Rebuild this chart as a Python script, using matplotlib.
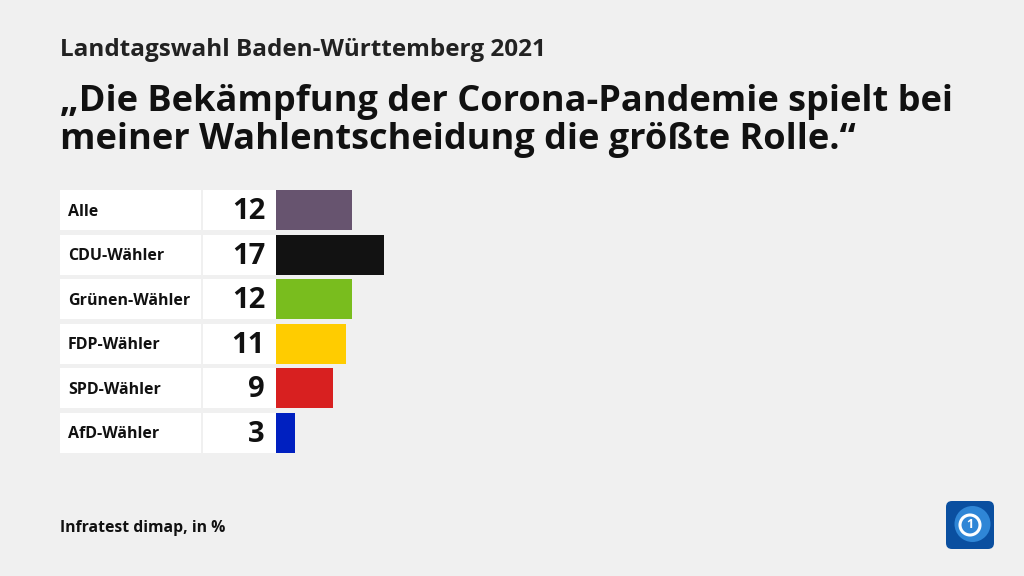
import numpy as np
import matplotlib.pyplot as plt
from matplotlib.patches import FancyBboxPatch, Circle

groups = ["Alle", "CDU-Wähler", "Grünen-Wähler", "FDP-Wähler", "SPD-Wähler", "AfD-Wähler"]
values = [12, 17, 12, 11, 9, 3]
colors = ["#67546f", "#121212", "#79bd1e", "#ffcc00", "#d82020", "#0020c0"]

subtitle = "Landtagswahl Baden-Württemberg 2021"
title = "„Die Bekämpfung der Corona-Pandemie spielt bei\nmeiner Wahlentscheidung die größte Rolle.“"
source = "Infratest dimap, in %"

plt.rcParams['font.family'] = ['Open Sans', 'DejaVu Sans']

W, H = 1024, 576
fig = plt.figure(figsize=(W / 100, H / 100), dpi=100)
fig.patch.set_facecolor("#f0f0f0")

# Balken-Achse: beginnt bei x=276 px, 6.37 px pro Prozentpunkt
px_per_unit = 6.37
x0 = 276
ax = fig.add_axes([x0 / W, (576 - 456) / H, (W - x0) / W, (456 - 189) / H])
ax.set_xlim(0, (W - x0) / px_per_unit)
n = len(groups)
ax.set_ylim(n - 0.5 + 0.02, -0.5 + 0.02)
ax.axis("off")

y = np.arange(n)
h = 40 / 44.6
lab_left = (60 - x0) / px_per_unit
lab_w = (201 - 60) / px_per_unit
val_left = (203 - x0) / px_per_unit
val_w = (276 - 203) / px_per_unit

ax.barh(y, [lab_w] * n, left=lab_left, height=h, color="white", clip_on=False)
ax.barh(y, [val_w] * n, left=val_left, height=h, color="white", clip_on=False)
ax.barh(y, values, height=h, color=colors)

for i, (g, v) in enumerate(zip(groups, values)):
    ax.text(lab_left + 8 / px_per_unit, i + 0.03, g, ha="left", va="center",
            fontsize=11.5, fontweight="bold", color="#111111", clip_on=False)
    ax.text(-11 / px_per_unit, i + 0.03, str(v), ha="right", va="center",
            fontsize=21, fontweight="bold", color="#111111", clip_on=False)

fig.text(60 / W, 1 - 50 / H, subtitle, ha="left", va="center",
         fontsize=17.5, fontweight="bold", color="#222222")
fig.text(60 / W, 1 - 121 / H, title, ha="left", va="center",
         fontsize=26, fontweight="bold", color="#111111", linespacing=1.08)
fig.text(60 / W, 1 - 528 / H, source, ha="left", va="center",
         fontsize=11.3, fontweight="bold", color="#111111")

# Logo unten rechts
lax = fig.add_axes([945 / W, (576 - 550) / H, 50 / W, 50 / H])
lax.set_xlim(0, 1)
lax.set_ylim(0, 1)
lax.axis("off")
lax.add_patch(FancyBboxPatch((0.02, 0.02), 0.96, 0.96, boxstyle="round,pad=0,rounding_size=0.12",
                             facecolor="#0a4fa0", edgecolor="none"))
lax.add_patch(Circle((0.55, 0.52), 0.36, facecolor="#2f86d6", edgecolor="none"))
lax.add_patch(Circle((0.5, 0.5), 0.2, facecolor="none", edgecolor="white", linewidth=2.2))
lax.text(0.5, 0.5, "1", ha="center", va="center", fontsize=9, fontweight="bold", color="white")

fig.savefig("out.png", dpi=100, facecolor=fig.get_facecolor())
